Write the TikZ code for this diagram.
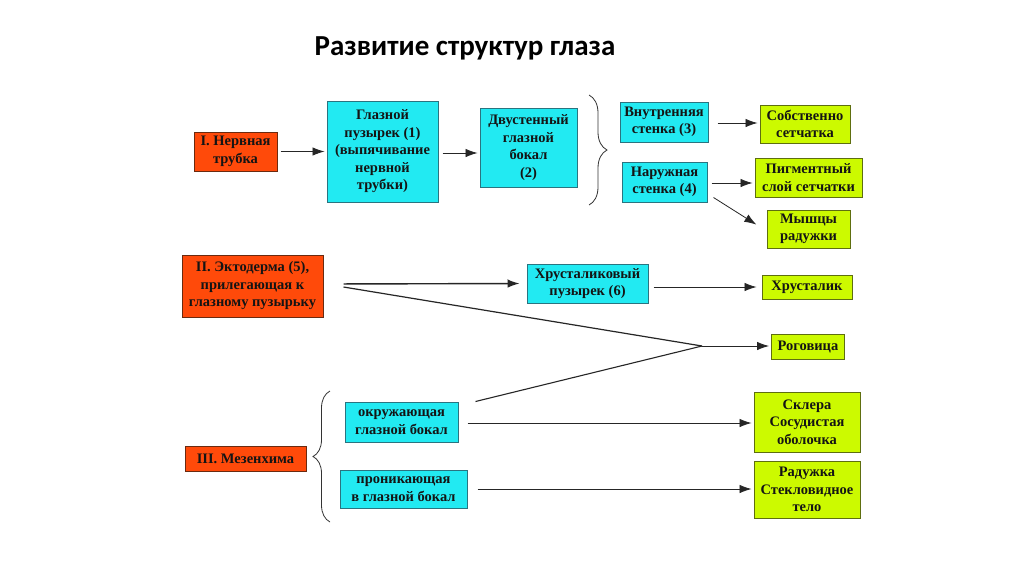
\documentclass[tikz,border=0pt]{standalone}
\usepackage{fontspec}
\setmainfont{Liberation Serif}
\newfontfamily\titlefont{Carlito}
\usetikzlibrary{arrows.meta,decorations.pathreplacing}
\definecolor{redf}{HTML}{FF4A0A}
\definecolor{redd}{HTML}{6A2A10}
\definecolor{cyanf}{HTML}{22EAF2}
\definecolor{cyand}{HTML}{2A7480}
\definecolor{greenf}{HTML}{CCFA00}
\definecolor{greend}{HTML}{5E6E10}
\definecolor{txt}{HTML}{141414}
\begin{document}
\begin{tikzpicture}[x=1pt,y=-1pt,
  box/.style={draw, line width=1pt, align=center, inner sep=1pt, text=txt,
    font=\fontsize{14.5}{17.5}\selectfont\bfseries},
  redbox/.style={box, fill=redf, draw=redd},
  cyanbox/.style={box, fill=cyanf, draw=cyand},
  greenbox/.style={box, fill=greenf, draw=greend},
  arr/.style={-{Latex[length=12pt,width=8.5pt]}, line width=0.8pt, draw=black!85},
  ln/.style={line width=0.8pt, draw=black!85},
  brc/.style={decorate, line width=0.8pt, draw=black!80}]
\useasboundingbox (0,0) rectangle (1024,576);
\fill[white] (0,0) rectangle (1024,576);

\node[font=\titlefont\fontsize{29}{32}\selectfont\bfseries] (title) at (465,48) {Развитие структур глаза};

% Row I
\node[redbox, minimum width=83, minimum height=39] (A) at (235.5,151.5) {I. Нервная\\трубка};
\node[cyanbox, minimum width=111, minimum height=101] (B) at (382.5,151.5) {Глазной\\пузырек (1)\\(выпячивание\\нервной\\трубки)};
\node[cyanbox, minimum width=97, minimum height=79] (C) at (528.5,147.5) {Двустенный\\глазной\\бокал\\(2)};
\node[cyanbox, minimum width=88, minimum height=40] (D) at (664,122) {Внутренняя\\стенка (3)};
\node[cyanbox, minimum width=85, minimum height=40] (E) at (664.5,182) {Наружная\\стенка (4)};
\node[greenbox, minimum width=90, minimum height=38] (F) at (805,124) {Собственно\\сетчатка};
\node[greenbox, minimum width=107, minimum height=39] (G) at (808.5,177.5) {Пигментный\\слой сетчатки};
\node[greenbox, minimum width=83, minimum height=38] (H) at (808.5,229) {Мышцы\\радужки};

\draw[arr, shorten <=3pt, shorten >=2pt] (A.east) -- (A.east -| B.west);
\draw[arr, shorten <=4pt, shorten >=2pt] ([yshift=-1.5pt]B.east) -- ([yshift=-1.5pt]B.east -| C.west);
\draw[brc, decoration={brace, amplitude=18pt}] (589,95) -- (589,205);
\draw[arr, shorten <=9pt, shorten >=2pt] ([yshift=-1pt]D.east) -- ([yshift=-1pt]D.east -| F.west);
\draw[arr, shorten <=4pt, shorten >=2pt] ([yshift=-1pt]E.east) -- ([yshift=-1pt]E.east -| G.west);
\draw[arr, shorten >=12pt] ([shift={(6,-5)}]E.south east) -- ([yshift=-2pt]H.west);

% Row II
\node[redbox, minimum width=141, minimum height=62] (I) at (252.5,286) {II. Эктодерма (5),\\прилегающая к\\глазному пузырьку};
\node[cyanbox, minimum width=121, minimum height=39] (J) at (587.5,283.5) {Хрусталиковый\\пузырек (6)};
\node[greenbox, minimum width=90, minimum height=24] (K) at (807,287) {Хрусталик};
\node[greenbox, minimum width=73, minimum height=25] (L) at (808,347) {Роговица};
\coordinate (conv) at (702,346);

\draw[arr, line width=1.4pt, shorten <=20pt, shorten >=7pt] ([yshift=-0.5pt]I.east |- J.west) -- (J.west);
\draw[arr, shorten <=5pt, shorten >=5pt] (K.west -| J.east) -- (K.west);
\draw[ln, line width=1.2pt] ([shift={(20,1)}]I.east) -- (conv);
\draw[arr, shorten >=2pt] (conv) -- (conv -| L.west);

% Row III
\node[redbox, minimum width=121, minimum height=25] (M) at (245.5,458.5) {III. Мезенхима};
\node[cyanbox, minimum width=113, minimum height=40] (N) at (401.5,422) {окружающая\\глазной бокал};
\node[cyanbox, minimum width=127, minimum height=38] (O) at (403.5,489) {проникающая\\в глазной бокал};
\node[greenbox, minimum width=106, minimum height=60] (P) at (807,422) {Склера\\Сосудистая\\оболочка};
\node[greenbox, minimum width=106, minimum height=57] (Q) at (807,489.5) {Радужка\\Стекловидное\\тело};

\draw[ln, line width=1.1pt] ([xshift=17pt]N.north east) -- (conv);
\draw[brc, decoration={brace, amplitude=17pt}] (330,522) -- (330,391);
\draw[arr, shorten <=9pt, shorten >=2pt] ([yshift=-1pt]N.east) -- ([yshift=-1pt]N.east -| P.west);
\draw[arr, shorten <=10pt, shorten >=2pt] (O.east) -- (O.east -| Q.west);
\end{tikzpicture}
\end{document}
